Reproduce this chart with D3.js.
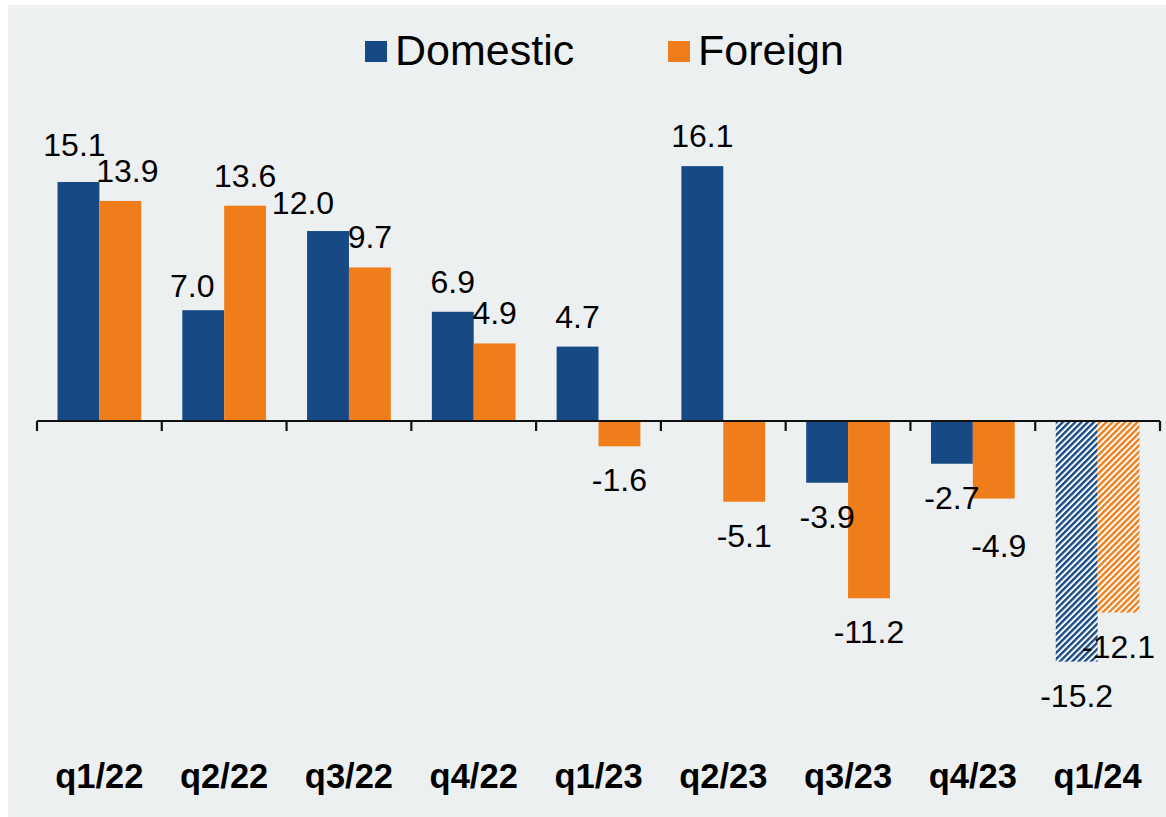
<!DOCTYPE html>
<html>
<head>
<meta charset="utf-8">
<script src="https://cdn.jsdelivr.net/npm/d3@7"></script>
<style>
  body { margin: 0; background: #fff; }
  text { font-family: "Liberation Sans", Arial, sans-serif; fill: #000; }
</style>
</head>
<body>
<svg id="chart" width="1166" height="817"></svg>
<script>
const categories = ["q1/22", "q2/22", "q3/22", "q4/22", "q1/23", "q2/23", "q3/23", "q4/23", "q1/24"];
const series = ["Domestic", "Foreign"];
const domestic = [15.1, 7.0, 12.0, 6.9, 4.7, 16.1, -3.9, -2.7, -15.2];
const foreign = [13.9, 13.6, 9.7, 4.9, -1.6, -5.1, -11.2, -4.9, -12.1];
const estimated = ["q1/24"];

const colors = { Domestic: "#174a84", Foreign: "#ef7d1a" };

// manual label nudges, like the hand-placed labels in the original
const nudge = {
  "Domestic|q1/22": [-4, -7],
  "Foreign|q1/22": [7, 0],
  "Domestic|q2/22": [-11, 6],
  "Domestic|q3/22": [-25, 2],
  "Foreign|q4/23": [5, 13]
};

const rows = categories.map((c, i) => ({ cat: c, Domestic: domestic[i], Foreign: foreign[i] }));

const svg = d3.select("#chart");

svg.append("rect")
  .attr("x", 8).attr("y", 5)
  .attr("width", 1158).attr("height", 812)
  .attr("fill", "#edf0f1");

const defs = svg.append("defs");
series.forEach(s => {
  const p = defs.append("pattern")
    .attr("id", "hatch-" + s)
    .attr("patternUnits", "userSpaceOnUse")
    .attr("width", 4.4).attr("height", 4.4)
    .attr("patternTransform", "rotate(45)");
  p.append("rect").attr("width", 4.4).attr("height", 4.4).attr("fill", "#fff");
  p.append("rect").attr("width", 2.4).attr("height", 4.4).attr("fill", colors[s]);
});

const x0 = d3.scaleBand()
  .domain(categories)
  .range([37, 1160])
  .padding(0);

const x1 = d3.scaleBand()
  .domain(series)
  .range([0, x0.bandwidth()])
  .paddingInner(0)
  .paddingOuter(0.49);

const y = d3.scaleLinear()
  .domain([-20, 20])
  .range([421 + 20 * 15.83, 421 - 20 * 15.83]);

const groups = svg.append("g").selectAll("g")
  .data(rows)
  .enter().append("g")
  .attr("transform", d => `translate(${x0(d.cat)},0)`);

groups.selectAll("rect")
  .data(d => series.map(s => ({ s: s, cat: d.cat, v: d[s] })))
  .enter().append("rect")
  .attr("x", d => x1(d.s))
  .attr("width", x1.bandwidth())
  .attr("y", d => y(Math.max(0, d.v)))
  .attr("height", d => Math.abs(y(d.v) - y(0)))
  .attr("fill", d => estimated.includes(d.cat) ? `url(#hatch-${d.s})` : colors[d.s]);

// axis at zero
const axis = svg.append("g")
  .attr("transform", `translate(0,${y(0)})`)
  .call(d3.axisBottom(x0).tickSize(0).tickFormat(""));
axis.select(".domain").attr("stroke", "#111").attr("stroke-width", 2.2).attr("d", `M${x0.range()[0]},0H${x0.range()[1]}`);
axis.selectAll(".tick").remove();

const boundaries = categories.map(c => x0(c)).concat([x0.range()[1]]);
axis.selectAll("line.bound")
  .data(boundaries)
  .enter().append("line")
  .attr("class", "bound")
  .attr("x1", d => d).attr("x2", d => d)
  .attr("y1", 0).attr("y2", 10)
  .attr("stroke", "#111").attr("stroke-width", 2.2);

// value labels (plain hyphen for negatives, as in the original)
const fmt = v => v.toFixed(1);
groups.selectAll("text.val")
  .data(d => series.map(s => ({ s: s, cat: d.cat, v: d[s] })))
  .enter().append("text")
  .attr("class", "val")
  .attr("text-anchor", "middle")
  .attr("font-size", 32)
  .attr("x", d => x1(d.s) + x1.bandwidth() / 2 + (nudge[d.s + "|" + d.cat] || [0, 0])[0])
  .attr("y", d => (d.v >= 0 ? y(d.v) - 19 : y(d.v) + 45) + (nudge[d.s + "|" + d.cat] || [0, 0])[1])
  .text(d => fmt(d.v));

// category labels
svg.append("g").selectAll("text")
  .data(categories)
  .enter().append("text")
  .attr("x", d => x0(d) + x0.bandwidth() / 2)
  .attr("y", 788)
  .attr("text-anchor", "middle")
  .attr("font-size", 34.5)
  .attr("font-weight", "bold")
  .text(d => d);

// legend
const legend = svg.append("g");
const legendX = [365, 668];
series.forEach((s, i) => {
  legend.append("rect")
    .attr("x", legendX[i]).attr("y", 41)
    .attr("width", 22).attr("height", 21)
    .attr("fill", colors[s]);
  legend.append("text")
    .attr("x", legendX[i] + 30).attr("y", 65)
    .attr("font-size", 43)
    .text(s);
});
</script>
</body>
</html>
